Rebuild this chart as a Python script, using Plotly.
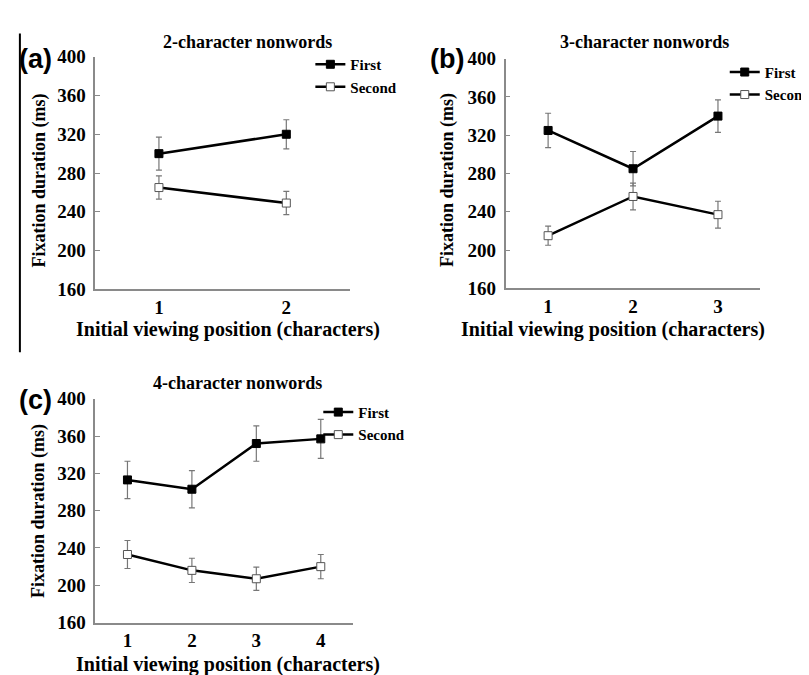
import plotly.graph_objects as go

W, H = 809, 675

# ---------------- data ----------------
a_x = [1, 2]
a_first = [300, 320]
a_first_err = [17, 15]
a_second = [265, 249]
a_second_err = [12, 12]

b_x = [1, 2, 3]
b_first = [325, 285, 340]
b_first_err = [18, 18, 17]
b_second = [215, 256, 237]
b_second_err = [10, 14, 14]

c_x = [1, 2, 3, 4]
c_first = [313, 303, 352, 357]
c_first_err = [20, 20, 19, 21]
c_second = [233, 216, 207, 220]
c_second_err = [15, 13, 12.5, 13]

y_ticks = [160, 200, 240, 280, 320, 360, 400]
series_names = ["First", "Second"]
panel_titles = ["2-character nonwords", "3-character nonwords", "4-character nonwords"]
panel_labels = ["(a)", "(b)", "(c)"]
x_title = "Initial viewing position (characters)"
y_title = "Fixation duration (ms)"

SERIF = "Liberation Serif"
SANS = "Liberation Sans"

def px_x(v):
    return v / W

def px_y(v):
    return 1 - v / H

fig = go.Figure()

panels = [
    dict(x=a_x, first=a_first, ferr=a_first_err, second=a_second, serr=a_second_err,
         ax="x", ay="y", legend="legend"),
    dict(x=b_x, first=b_first, ferr=b_first_err, second=b_second, serr=b_second_err,
         ax="x2", ay="y2", legend="legend2"),
    dict(x=c_x, first=c_first, ferr=c_first_err, second=c_second, serr=c_second_err,
         ax="x3", ay="y3", legend="legend3"),
]

for p in panels:
    fig.add_trace(go.Scatter(
        x=p["x"], y=p["first"], name=series_names[0], mode="lines+markers",
        xaxis=p["ax"], yaxis=p["ay"], legend=p["legend"],
        line=dict(color="black", width=2.5),
        marker=dict(symbol="square", size=8, color="black", line=dict(color="black", width=1)),
        error_y=dict(type="data", array=p["ferr"], visible=True, color="#777777", thickness=1.2, width=3),
    ))
    fig.add_trace(go.Scatter(
        x=p["x"], y=p["second"], name=series_names[1], mode="lines+markers",
        xaxis=p["ax"], yaxis=p["ay"], legend=p["legend"],
        line=dict(color="black", width=2.5),
        marker=dict(symbol="square", size=8, color="white", line=dict(color="#555555", width=1)),
        error_y=dict(type="data", array=p["serr"], visible=True, color="#777777", thickness=1.2, width=3),
    ))

# axis geometry (pixels)
geo = [
    dict(x0=88, x1=345, ytop=40, ybot=280, n=2),
    dict(x0=502, x1=759, ytop=42, ybot=279, n=3),
    dict(x0=88, x1=348, ytop=393, ybot=624, n=4),
]

axis_common_x = dict(
    showline=True, linecolor="#8a8a8a", linewidth=1.5, showgrid=False, zeroline=False,
    ticks="", tickfont=dict(family=SERIF, size=19, color="black", weight="bold"),
    ticklabelstandoff=0,
)
axis_common_y = dict(
    showline=True, linecolor="#8a8a8a", linewidth=1.5, showgrid=False, zeroline=False,
    ticks="inside", ticklen=5, tickcolor="#8a8a8a", tickwidth=1.2,
    tickfont=dict(family=SERIF, size=19, color="black", weight="bold"),
    range=[160, 400], tickvals=y_ticks, ticklabelstandoff=4,
)

layout_axes = {}
for i, g in enumerate(geo):
    sfx = "" if i == 0 else str(i + 1)
    layout_axes["xaxis" + sfx] = dict(
        axis_common_x, domain=[px_x(g["x0"]), px_x(g["x1"])],
        range=[0.5, g["n"] + 0.5], tickvals=list(range(1, g["n"] + 1)),
        anchor="y" + sfx,
    )
    layout_axes["yaxis" + sfx] = dict(
        axis_common_y, domain=[px_y(g["ybot"]), px_y(g["ytop"])],
        anchor="x" + sfx,
    )

fig.update_layout(**layout_axes)

annotations = []
# panel titles
for (tx, ty), t in zip([(242, 25), (642, 25), (231, 377)], panel_titles):
    annotations.append(dict(text=t, x=px_x(tx), y=px_y(ty), xref="paper", yref="paper",
                            showarrow=False, xanchor="center", yanchor="middle",
                            font=dict(family=SERIF, size=18, color="black", weight="bold")))
# panel labels
for (tx, ty), t in zip([(28, 42), (443, 42), (28, 394)], panel_labels):
    annotations.append(dict(text=t, x=px_x(tx), y=px_y(ty), xref="paper", yref="paper",
                            showarrow=False, xanchor="center", yanchor="middle",
                            font=dict(family=SANS, size=27, color="black", weight="bold")))
# x titles
for (tx, ty) in [(222, 322), (610, 322), (222, 667)]:
    annotations.append(dict(text=x_title, x=px_x(tx), y=px_y(ty), xref="paper", yref="paper",
                            showarrow=False, xanchor="center", yanchor="middle",
                            font=dict(family=SERIF, size=20, color="black", weight="bold")))
# y titles
for (tx, ty) in [(32, 168), (444, 167), (30, 509)]:
    annotations.append(dict(text=y_title, x=px_x(tx), y=px_y(ty), xref="paper", yref="paper",
                            showarrow=False, xanchor="center", yanchor="middle", textangle=-90,
                            font=dict(family=SERIF, size=18, color="black", weight="bold")))

legend_common = dict(
    font=dict(family=SERIF, size=15, color="black", weight="bold"),
    bgcolor="rgba(0,0,0,0)", borderwidth=0, xanchor="left", yanchor="top",
    itemwidth=30, tracegroupgap=0,
)

fig.update_layout(
    width=W, height=H,
    margin=dict(l=0, r=0, t=0, b=0),
    paper_bgcolor="white", plot_bgcolor="white",
    annotations=annotations,
    legend=dict(legend_common, x=px_x(305), y=px_y(31)),
    legend2=dict(legend_common, x=px_x(723), y=px_y(39)),
    legend3=dict(legend_common, x=px_x(313), y=px_y(390)),
    shapes=[dict(type="line", xref="paper", yref="paper",
                 x0=px_x(12), x1=px_x(12), y0=px_y(16), y1=px_y(345),
                 line=dict(color="black", width=2))],
)

fig.write_html("out.html")
